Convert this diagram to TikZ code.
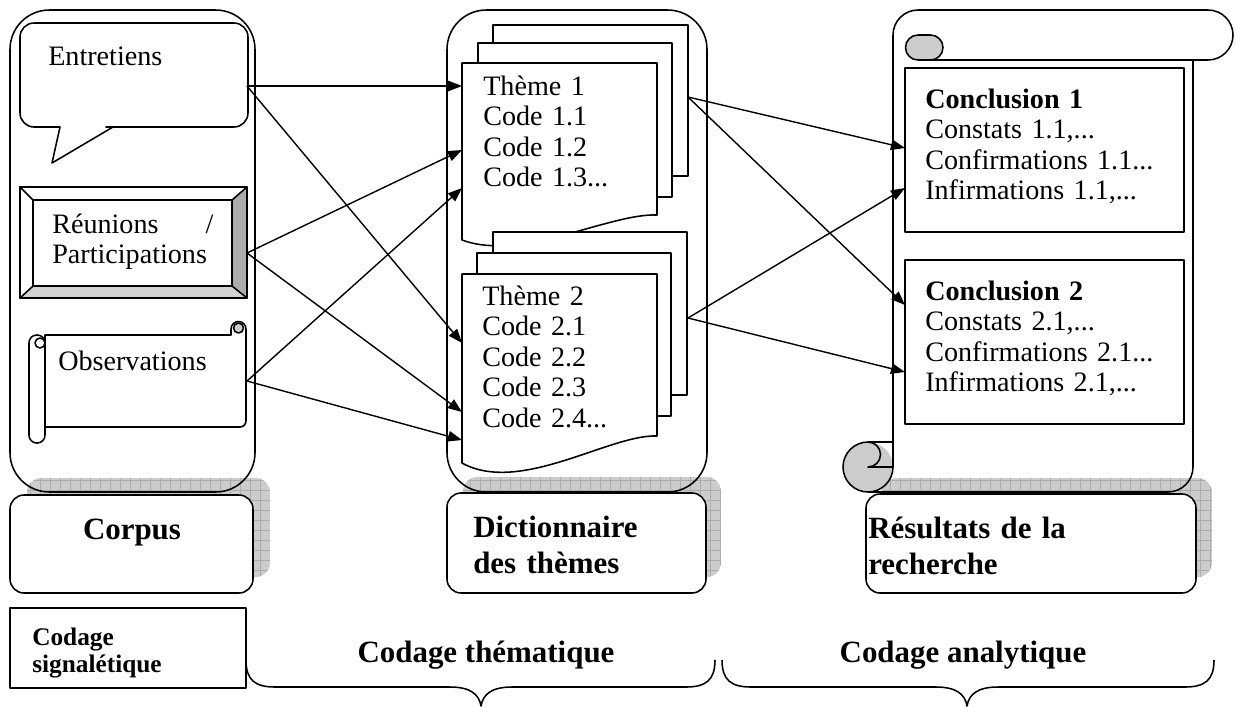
\documentclass[tikz,border=0pt]{standalone}
\usepackage{fontspec}
\setmainfont{Liberation Serif}
\usetikzlibrary{arrows.meta}

\begin{document}
\begin{tikzpicture}[
    x=0.025cm, y=-0.025cm,
    outline/.style={line width=1.1pt, line join=round},
    panel/.style={outline, rounded corners=28pt},
    sheet/.style={outline, fill=white},
    labelbox/.style={outline, fill=white, rounded corners=10pt},
    shadowfill/.style={fill=gray!40},
    shadowgrid/.style={draw=gray!65, line width=0.3pt, step=0.25cm},
    txt/.style={font=\fontsize{20}{21.7}\selectfont, inner sep=0pt, anchor=base west, align=left},
    boldtxt/.style={font=\fontsize{22}{25.6}\selectfont\bfseries, inner sep=0pt, anchor=base west, align=left},
    arrow/.style={line width=1pt, -{Triangle[length=10pt, width=7.5pt]}}
]
\useasboundingbox (0,0) rectangle (1236,706);

% --- curl of the result scroll, under the shadow ---
\fill[gray!40] (868,467) circle[radius=25];

% --- SHADOWS ---
\begin{scope}
  \clip[rounded corners=10pt] (27,478) rectangle (270,577);
  \fill[shadowfill] (27,478) rectangle (270,577);
  \draw[shadowgrid] (20,470) grid (280,590);
\end{scope}
\begin{scope}
  \clip[rounded corners=10pt] (463,477) rectangle (721,577);
  \fill[shadowfill] (463,477) rectangle (721,577);
  \draw[shadowgrid] (455,470) grid (730,590);
\end{scope}
\begin{scope}
  \clip[rounded corners=10pt] (882,478) rectangle (1212,577);
  \fill[shadowfill] (882,478) rectangle (1212,577);
  \draw[shadowgrid] (875,470) grid (1220,590);
\end{scope}

% --- CORPUS ---
\draw[panel] (10,10) rectangle (255,492);
\draw[sheet] (52,163) -- (60,127) -- (50,127) [rounded corners=10pt] -- (20,127) -- (20,23)
    -- (248,23) -- (248,127) -- (120,127) [sharp corners] -- (113,127) -- cycle;
\node[txt] (entretiens) at (48,65) {Entretiens};

\draw[outline, fill=white] (20,187) rectangle (247,298);
\fill[gray!65] (247,187) -- (247,298) -- (232,286) -- (232,200) -- cycle;
\fill[gray!35] (20,298) -- (247,298) -- (232,286) -- (33,286) -- cycle;
\draw[outline] (20,187) rectangle (247,298);
\draw[outline] (33,200) rectangle (232,286);
\draw[outline] (20,187) -- (33,200) (247,187) -- (232,200)
    (20,298) -- (33,286) (247,298) -- (232,286);
\node[txt, text width=4.03cm] (reunions) at (52,233) {Réunions \hfill /\\Participations};

\draw[sheet] (45,335) -- (231,335) -- (231,329) arc[start angle=180, end angle=360, radius=7.5]
    -- (246,421) arc[start angle=0, end angle=90, radius=6] -- (45,427) -- cycle;
\filldraw[outline, fill=gray!40] (238.5,328) circle[radius=5];
\draw[sheet, rounded corners=5.5pt] (29,335) rectangle (45,443);
\draw[outline] (40,343) circle[radius=5];
\node[txt] (observations) at (58,370) {Observations};

\draw[labelbox] (10,495) rectangle (253,593);
\node[boldtxt, anchor=base] (corpus) at (132,539) {Corpus};

\draw[outline] (10,608) rectangle (246,688);
\node[boldtxt, text width=5.4cm, font=\fontsize{18}{19.6}\selectfont\bfseries] (signaletique) at (32,645) {Codage\\signalétique};

% --- DICTIONNAIRE ---
\draw[panel] (447,10) rectangle (707,492);
\draw[sheet] (493,25) rectangle (688,176);
\draw[sheet] (478,43) rectangle (672,197);
\draw[sheet] (462,63) -- (657,63) -- (657,215) .. controls (610,213) and (520,262) .. (462,240) -- cycle;
\node[txt, text width=4.2cm] (theme1) at (483,95) {Thème 1\\Code 1.1\\Code 1.2\\Code 1.3...};

\draw[sheet] (493,232) rectangle (687,395);
\draw[sheet] (477,253) rectangle (671,416);
\draw[sheet] (462,274) -- (657,274) -- (657,436) .. controls (610,434) and (520,495) .. (462,463) -- cycle;
\node[txt, text width=4.2cm] (theme2) at (482,305) {Thème 2\\Code 2.1\\Code 2.2\\Code 2.3\\Code 2.4...};

\draw[labelbox] (447,493) rectangle (706,593);
\node[boldtxt, text width=5.8cm] (dico) at (473,537) {Dictionnaire\\des thèmes};

% --- RESULTATS ---
\draw[outline] (893,467) -- (893,35) arc[start angle=180, end angle=270, radius=25]
    -- (1208,10) arc[start angle=270, end angle=450, radius=25] -- (918,60);
\filldraw[outline, fill=gray!40] (918,35) -- (930.5,35) arc[start angle=270, end angle=450, radius=12.5]
    -- (918,60) arc[start angle=90, end angle=270, radius=12.5] -- cycle;
\draw[outline] (1193,60) -- (1193,467) arc[start angle=0, end angle=90, radius=25] -- (868,492);
\draw[outline] (868,492) arc[start angle=90, end angle=270, radius=25] -- (893,442);
\draw[outline] (868,442) arc[start angle=270, end angle=450, radius=12.5] -- (893,467)
    arc[start angle=0, end angle=90, radius=25];

\draw[outline, fill=white] (905,68) rectangle (1184,232);
\node[txt, text width=6.3cm] (conc1) at (925,108) {\textbf{Conclusion 1}\\Constats 1.1,...\\Confirmations 1.1...\\Infirmations 1.1,...};
\draw[outline, fill=white] (905,260) rectangle (1184,424);
\node[txt, text width=6.3cm] (conc2) at (925,300) {\textbf{Conclusion 2}\\Constats 2.1,...\\Confirmations 2.1...\\Infirmations 2.1,...};

\draw[labelbox] (866,494) rectangle (1196,593);
\node[boldtxt, text width=7.8cm] (resultats) at (868,538) {Résultats de la\\recherche};

% --- BRACES ---
\draw[outline] (246,660) .. controls (246,680) and (255,687) .. (275,687) -- (450,687)
    .. controls (470,687) and (479,694) .. (481,706) .. controls (483,694) and (492,687) .. (512,687)
    -- (686,687) .. controls (706,687) and (715,680) .. (715,660);
\draw[outline] (722,660) .. controls (722,680) and (731,687) .. (751,687) -- (936,687)
    .. controls (956,687) and (965,694) .. (967,706) .. controls (969,694) and (978,687) .. (998,687)
    -- (1185,687) .. controls (1205,687) and (1214,680) .. (1214,660);
\node[boldtxt, anchor=base] (codthem) at (486,662) {Codage thématique};
\node[boldtxt, anchor=base] (codana) at (963,662) {Codage analytique};

% --- PATHS ---
\coordinate (entR) at (247,86);
\coordinate (reuR) at (247,253);
\coordinate (obsR) at (247,381);
\coordinate (t1a) at (462,86);
\coordinate (t1b) at (462,150);
\coordinate (t1c) at (462,188);
\coordinate (t2a) at (462,343);
\coordinate (t2b) at (462,412);
\coordinate (t2c) at (462,440);
\coordinate (d1R) at (688,97);
\coordinate (d2R) at (688,318);
\coordinate (c1a) at (905,148);
\coordinate (c1b) at (905,188);
\coordinate (c2a) at (905,305);
\coordinate (c2b) at (905,372);

\draw[arrow] (entR) -- (t1a);
\draw[arrow] (entR) -- (t2a);
\draw[arrow] (reuR) -- (t1b);
\draw[arrow] (reuR) -- (t2b);
\draw[arrow] (obsR) -- (t1c);
\draw[arrow] (obsR) -- (t2c);

\draw[arrow] (d1R) -- (c1a);
\draw[arrow] (d1R) -- (c2a);
\draw[arrow] (d2R) -- (c1b);
\draw[arrow] (d2R) -- (c2b);

\end{tikzpicture}
\end{document}
